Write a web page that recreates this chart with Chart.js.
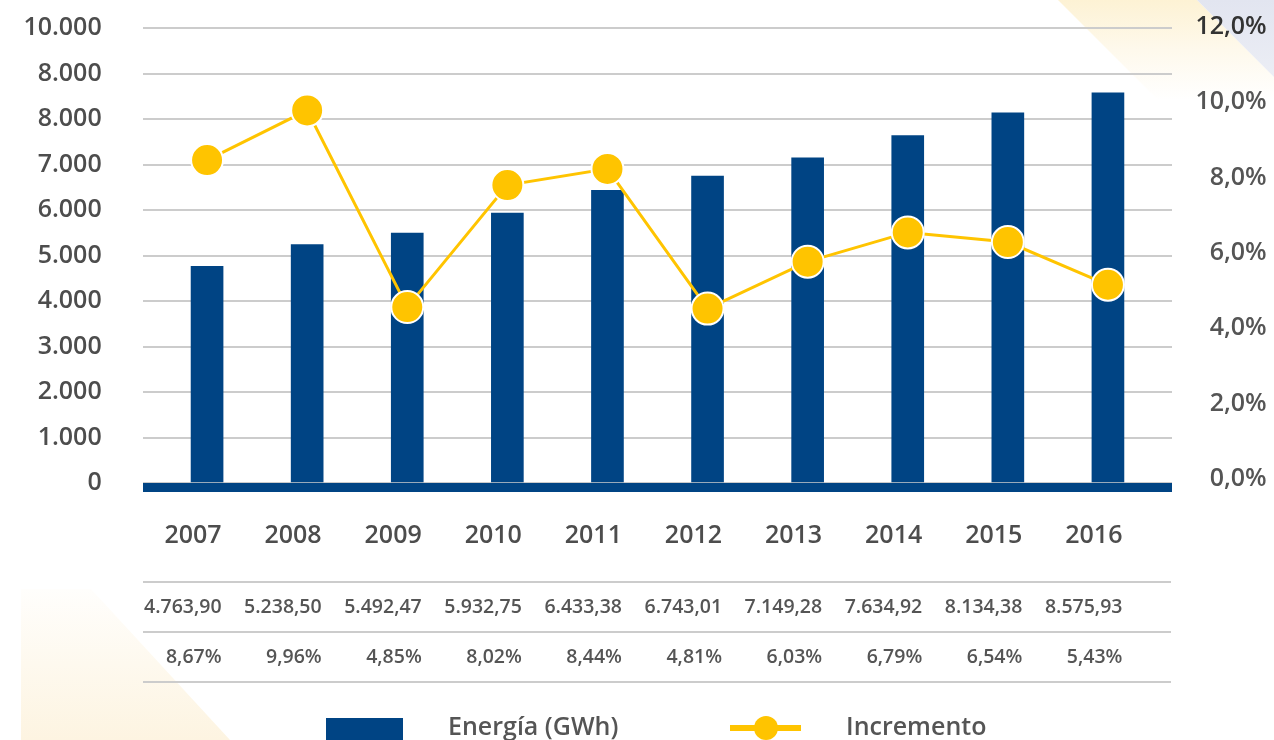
<!DOCTYPE html>
<html>
<head>
<meta charset="utf-8">
<script src="https://cdn.jsdelivr.net/npm/chart.js@4.4.1/dist/chart.umd.min.js"></script>
<style>
html,body{margin:0;padding:0;background:#fff;}
#wrap{position:relative;width:1274px;height:740px;overflow:hidden;background:#fff;}
.deco{position:absolute;left:0;top:0;width:1274px;height:740px;}
#c{position:absolute;left:0;top:0;}
</style>
</head>
<body>
<div id="wrap">
  <div class="deco" style="background:linear-gradient(180deg,#fdf2d4 0px,#fef9ec 50px,#ffffff 100px);clip-path:polygon(1058px 0,1197px 0,1297px 100px,1158px 100px);"></div>
  <div class="deco" style="background:linear-gradient(180deg,#e2e5f0 0px,#eceef5 80px);clip-path:polygon(1197px 0,1274px 0,1274px 77px);"></div>
  <div class="deco" style="background:linear-gradient(180deg,#fffefc 589px,#fdf4e1 740px);clip-path:polygon(21px 589px,91px 589px,230px 740px,21px 740px);"></div>
  <canvas id="c" width="1274" height="740"></canvas>
</div>
<script>
// ---- data ----
const years = ['2007','2008','2009','2010','2011','2012','2013','2014','2015','2016'];
const energy = [4763.90, 5238.50, 5492.47, 5932.75, 6433.38, 6743.01, 7149.28, 7634.92, 8134.38, 8575.93];
const increment = [8.67, 9.96, 4.85, 8.02, 8.44, 4.81, 6.03, 6.79, 6.54, 5.43];
const leftTickLabels = ['0','1.000','2.000','3.000','4.000','5.000','6.000','7.000','8.000','8.000','10.000'];
const rightTickLabels = ['0,0%','2,0%','4,0%','6,0%','8,0%','10,0%','12,0%'];
const seriesNames = ['Energía (GWh)', 'Incremento'];

// ---- style ----
const NAVY = '#004484';
const YELLOW = '#FFC400';
const FONT = '"Open Sans", "Noto Sans", sans-serif';

function fmtEs(v, d) {
  const s = v.toFixed(d);
  const parts = s.split('.');
  const intPart = parts[0].replace(/\B(?=(\d{3})+(?!\d))/g, '.');
  return parts.length > 1 ? intPart + ',' + parts[1] : intPart;
}

const extras = {
  id: 'extras',
  afterDraw(chart) {
    const ctx = chart.ctx;
    const xs = chart.scales.x;
    const ca = chart.chartArea;
    ctx.save();
    // baseline
    ctx.fillStyle = NAVY;
    ctx.fillRect(ca.left, ca.bottom, ca.right - ca.left, 9);
    // table lines
    ctx.strokeStyle = '#cccccc';
    ctx.lineWidth = 2;
    [582, 632, 682].forEach(y => {
      ctx.beginPath();
      ctx.moveTo(ca.left, y);
      ctx.lineTo(ca.right - 1, y);
      ctx.stroke();
    });
    // table values
    ctx.font = '600 19.5px ' + FONT;
    ctx.fillStyle = '#555555';
    ctx.textAlign = 'right';
    ctx.textBaseline = 'middle';
    energy.forEach((v, i) => {
      const px = xs.getPixelForValue(i) + 14.5;
      ctx.fillText(fmtEs(v, 2), px, 607);
      ctx.fillText(fmtEs(increment[i], 2) + '%', px, 657);
    });
    // legend
    ctx.fillStyle = NAVY;
    ctx.fillRect(326, 718, 77, 30);
    ctx.strokeStyle = YELLOW;
    ctx.lineWidth = 6;
    ctx.beginPath();
    ctx.moveTo(730, 728);
    ctx.lineTo(801, 728);
    ctx.stroke();
    ctx.fillStyle = YELLOW;
    ctx.beginPath();
    ctx.arc(766, 728, 12, 0, Math.PI * 2);
    ctx.fill();
    ctx.font = '600 25px ' + FONT;
    ctx.fillStyle = '#555555';
    ctx.textAlign = 'left';
    ctx.fillText(seriesNames[0], 448, 728);
    ctx.fillText(seriesNames[1], 846, 728);
    ctx.restore();
  }
};

const tickFont = { family: FONT, size: 25, weight: '600' };

new Chart(document.getElementById('c'), {
  data: {
    datasets: [
      {
        type: 'line',
        label: seriesNames[1],
        data: increment.map((v, i) => ({ x: i, y: v })),
        yAxisID: 'yPct',
        borderColor: YELLOW,
        borderWidth: 3,
        pointRadius: 16,
        pointHoverRadius: 16,
        pointBackgroundColor: YELLOW,
        pointBorderColor: '#ffffff',
        pointBorderWidth: 2,
        tension: 0,
        order: 0,
        clip: false
      },
      {
        type: 'bar',
        label: seriesNames[0],
        data: energy.map((v, i) => ({ x: i, y: v })),
        yAxisID: 'y',
        backgroundColor: NAVY,
        barThickness: 32,
        order: 1
      }
    ]
  },
  options: {
    responsive: false,
    animation: false,
    events: [],
    layout: { autoPadding: false, padding: { top: 28, right: 7.3, bottom: 0, left: 0 } },
    plugins: { legend: { display: false }, tooltip: { enabled: false } },
    scales: {
      x: {
        type: 'linear',
        offset: false,
        min: -0.64,
        max: 9.64,
        grid: { display: false, drawTicks: false },
        border: { display: false },
        afterBuildTicks: s => { s.ticks = years.map((_, i) => ({ value: i })); },
        afterFit: s => { s.height = 257; },
        ticks: {
          autoSkip: false, maxRotation: 0, minRotation: 0,
          align: 'end', labelOffset: 14.5, padding: 37.6,
          color: '#4d4d4d', font: tickFont,
          callback: (v, i) => years[i]
        }
      },
      y: {
        position: 'left',
        min: 0,
        max: 10000,
        afterBuildTicks: s => { s.ticks = leftTickLabels.map((_, i) => ({ value: i * 1000 })); },
        afterFit: s => { s.width = 143; },
        grid: { color: '#cccccc', lineWidth: 2, drawTicks: true, tickLength: 41.3, tickColor: 'rgba(0,0,0,0)' },
        border: { display: false },
        ticks: { padding: 0, color: '#4d4d4d', font: tickFont, callback: (v, i) => leftTickLabels[i] }
      },
      yR: {
        position: 'right',
        min: -0.106,
        max: 11.973,
        afterBuildTicks: s => { s.ticks = rightTickLabels.map((_, i) => ({ value: i * 2 })); },
        afterFit: s => { s.width = 94.7; },
        grid: { display: false, drawTicks: false },
        border: { display: false },
        ticks: {
          crossAlign: 'far',
          padding: 0,
          color: c => (c.index === 6 ? '#333333' : '#555555'),
          font: tickFont,
          callback: (v, i) => rightTickLabels[i]
        }
      },
      yPct: { display: false, min: 0.28, max: 12.1 }
    }
  },
  plugins: [extras]
});
</script>
</body>
</html>
